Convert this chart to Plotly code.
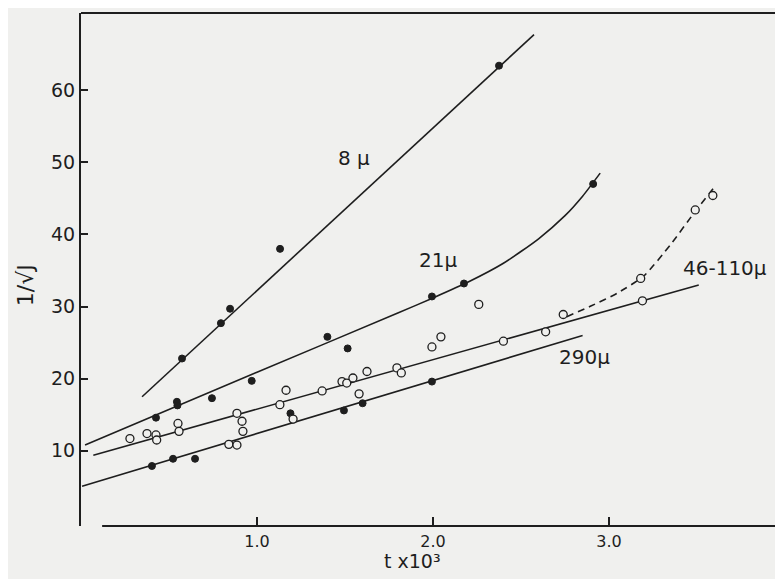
import plotly.graph_objects as go

# ---- data (t x 10^3, 1/sqrt(J)) ----
# 8 micron (filled dots) and fitted line
x_8 = [0.574, 0.795, 0.847, 1.131, 2.375]
y_8 = [22.8, 27.7, 29.7, 38.0, 63.4]
fit8_x = [0.347, 2.574]
fit8_y = [17.5, 67.7]

# 21 micron (filled dots) and fitted curve
x_21 = [0.426, 0.545, 0.548, 0.744, 0.970, 1.400, 1.515, 1.994, 2.176, 2.910]
y_21 = [14.6, 16.8, 16.3, 17.3, 19.7, 25.8, 24.2, 31.4, 33.2, 47.0]
fit21_x = [0.023, 1.000, 1.800, 2.000, 2.200, 2.400, 2.600, 2.750, 2.850, 2.950]
fit21_y = [10.8, 20.9, 29.1, 31.2, 33.4, 36.0, 39.4, 42.6, 45.3, 48.5]

# 46-110 micron (open circles), fitted line and dashed branch
x_46 = [0.278, 0.375, 0.426, 0.430, 0.551, 0.557, 0.840, 0.886, 0.886, 0.915,
        0.920, 1.130, 1.165, 1.205, 1.370, 1.483, 1.510, 1.545, 1.580, 1.625,
        1.795, 1.820, 1.994, 2.045, 2.260, 2.400, 2.640, 2.740, 3.190]
y_46 = [11.7, 12.4, 12.2, 11.5, 13.8, 12.7, 10.9, 10.8, 15.2, 14.1,
        12.7, 16.4, 18.4, 14.4, 18.3, 19.6, 19.4, 20.1, 17.9, 21.0,
        21.5, 20.8, 24.4, 25.8, 30.3, 25.2, 26.5, 28.9, 30.8]
fit46_x = [0.07, 3.51]
fit46_y = [9.4, 33.0]
x_46d = [3.18, 3.49, 3.59]
y_46d = [33.9, 43.4, 45.4]
dash46_x = [2.76, 2.90, 3.05, 3.20, 3.35, 3.49, 3.61]
dash46_y = [28.6, 30.1, 31.9, 34.3, 38.6, 43.2, 46.9]

# 290 micron (filled dots) and fitted line
x_290 = [0.403, 0.523, 0.648, 1.190, 1.494, 1.600, 1.994]
y_290 = [7.9, 8.9, 8.9, 15.2, 15.6, 16.6, 19.6]
fit290_x = [0.006, 2.85]
fit290_y = [5.1, 26.0]

y_ticks = [10, 20, 30, 40, 50, 60]
x_ticks = [1.0, 2.0, 3.0]
x_tick_text = ["1.0", "2.0", "3.0"]

series_labels = ["8 μ", "21μ", "46-110μ", "290μ"]
label_pos_x = [1.55, 2.03, 3.66, 2.86]
label_pos_y = [50.6, 36.5, 35.3, 23.0]

INK = "#1e1e1e"
BG = "#f0f0ee"

fig = go.Figure()

def line(xs, ys, dash="solid", shape="linear"):
    ln = dict(color=INK, width=1.6, dash=dash, shape=shape)
    if shape == "spline":
        ln["smoothing"] = 0.6
    fig.add_trace(go.Scatter(x=xs, y=ys, mode="lines", line=ln,
                             hoverinfo="skip", showlegend=False))

def filled(xs, ys):
    fig.add_trace(go.Scatter(x=xs, y=ys, mode="markers",
                             marker=dict(size=7, color=INK, line=dict(color=INK, width=1)),
                             showlegend=False))

def opened(xs, ys):
    fig.add_trace(go.Scatter(x=xs, y=ys, mode="markers",
                             marker=dict(size=8, color=BG, line=dict(color=INK, width=1.3)),
                             showlegend=False))

line(fit8_x, fit8_y)
line(fit21_x, fit21_y, shape="spline")
line(fit46_x, fit46_y)
line(dash46_x, dash46_y, dash="7px,5px", shape="spline")
line(fit290_x, fit290_y)

filled(x_8, y_8)
filled(x_21, y_21)
filled(x_290, y_290)
opened(x_46, y_46)
opened(x_46d, y_46d)

for t, lx, ly in zip(series_labels, label_pos_x, label_pos_y):
    fig.add_annotation(x=lx, y=ly, text=t, showarrow=False,
                       font=dict(family="DejaVu Sans", size=20, color=INK))

# axis titles
fig.add_annotation(xref="paper", yref="paper", x=(412 - 81) / 702, y=-0.068,
                   yanchor="middle", text="t x10³", showarrow=False,
                   font=dict(family="DejaVu Sans", size=19, color=INK))
fig.add_annotation(xref="paper", yref="paper", x=(25 - 81) / 702, y=(518 - 281) / 505,
                   xanchor="center", yanchor="middle",
                   text="1/√J", textangle=-90, showarrow=False,
                   font=dict(family="DejaVu Sans", size=22, color=INK))

# frame lines: top border and x axis line (starting a little right of the y axis)
fig.add_shape(type="line", xref="paper", yref="paper", x0=0, x1=1, y0=1, y1=1,
              line=dict(color=INK, width=2))
fig.add_shape(type="line", xref="x", yref="paper", x0=0.12, x1=4.0, y0=0, y1=0,
              line=dict(color=INK, width=2))

# the page body adds an 8px margin, so the figure is 8px smaller than the window
fig.update_layout(
    width=775, height=571,
    margin=dict(l=73, r=0, t=5, b=53),
    paper_bgcolor=BG, plot_bgcolor=BG,
    showlegend=False,
    xaxis=dict(range=[0, 702 / 176], tickvals=x_ticks, ticktext=x_tick_text,
               ticks="inside", ticklen=9, tickwidth=1.5, tickcolor=INK,
               showline=False, showgrid=False, zeroline=False,
               ticklabelstandoff=4,
               tickfont=dict(family="DejaVu Sans", size=16, color=INK)),
    yaxis=dict(range=[-0.42, 70.7], tickvals=y_ticks,
               ticks="inside", ticklen=7, tickwidth=1.5, tickcolor=INK,
               showline=True, linecolor=INK, linewidth=2,
               showgrid=False, zeroline=False,
               ticklabelstandoff=0,
               tickfont=dict(family="DejaVu Sans", size=19, color=INK)),
)

fig.write_html("out.html")
